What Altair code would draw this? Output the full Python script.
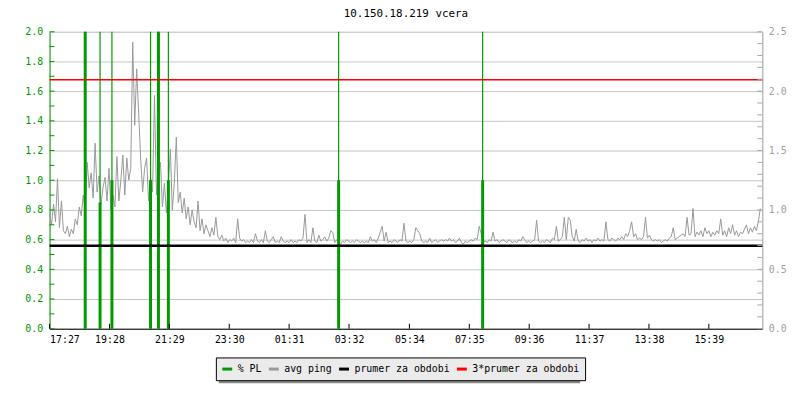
import altair as alt
import pandas as pd

# ---------------- data ----------------
title_text = "10.150.18.219 vcera"
series_names = ["% PL", "avg ping", "prumer za obdobi", "3*prumer za obdobi"]
series_colors = ["#009900", "#999999", "#000000", "#ff0000"]

tick_minutes = [0, 121, 242, 363, 484, 605, 727, 848, 969, 1090, 1211, 1332]
tick_labels = ["17:27", "19:28", "21:29", "23:30", "01:31", "03:32",
               "05:34", "07:35", "09:36", "11:37", "13:38", "15:39"]

# avg ping, one sample every 4 minutes starting 17:27 (left-axis units)
ping = [
    0.78, 0.70, 0.84, 0.72, 1.01, 0.68, 0.86, 0.66, 0.64, 0.69, 0.62, 0.67, 0.64, 0.74, 0.70, 0.82, 0.76, 0.90, 0.80, 1.12,
    0.95, 1.05, 0.88, 1.25, 0.92, 1.03, 0.84, 0.95, 1.02, 0.86, 1.08, 0.80, 0.90, 0.82, 1.16, 0.86, 1.00, 1.17, 0.90, 1.15,
    1.00, 1.08, 1.93, 1.37, 1.75, 1.45, 1.15, 0.92, 1.08, 1.15, 0.86, 1.02, 0.92, 1.57, 0.90, 1.08, 1.12, 0.82, 0.98, 0.78,
    0.95, 1.21, 0.80, 0.98, 1.29, 0.85, 0.92, 0.78, 0.88, 0.74, 0.82, 0.70, 0.80, 0.72, 0.68, 0.86, 0.66, 0.74, 0.64, 0.70,
    0.66, 0.62, 0.68, 0.63, 0.75, 0.62, 0.60, 0.63, 0.59, 0.61, 0.58, 0.60, 0.59, 0.61, 0.58, 0.74, 0.61, 0.59, 0.60, 0.58,
    0.59, 0.58, 0.60, 0.58, 0.64, 0.59, 0.58, 0.60, 0.58, 0.66, 0.59, 0.58, 0.60, 0.62, 0.58, 0.59, 0.58, 0.62, 0.59, 0.58,
    0.59, 0.58, 0.60, 0.58, 0.59, 0.58, 0.60, 0.59, 0.61, 0.77, 0.58, 0.60, 0.58, 0.68, 0.59, 0.58, 0.63, 0.59, 0.60, 0.62,
    0.59, 0.61, 0.66, 0.65, 0.58, 0.60, 0.58, 0.57, 0.59, 0.58, 0.60, 0.59, 0.58, 0.59, 0.58, 0.60, 0.59, 0.58, 0.59, 0.58,
    0.59, 0.58, 0.62, 0.59, 0.60, 0.58, 0.61, 0.65, 0.69, 0.59, 0.65, 0.58, 0.59, 0.58, 0.60, 0.59, 0.58, 0.60, 0.59, 0.71,
    0.59, 0.58, 0.59, 0.58, 0.60, 0.68, 0.66, 0.64, 0.59, 0.58, 0.59, 0.58, 0.61, 0.58, 0.59, 0.60, 0.58, 0.59, 0.60, 0.59,
    0.60, 0.59, 0.61, 0.59, 0.60, 0.58, 0.59, 0.61, 0.58, 0.57, 0.59, 0.58, 0.59, 0.60, 0.59, 0.61, 0.60, 0.69, 0.64, 0.58,
    0.59, 0.58, 0.60, 0.59, 0.65, 0.59, 0.60, 0.58, 0.59, 0.60, 0.59, 0.58, 0.60, 0.59, 0.58, 0.59, 0.58, 0.60, 0.59, 0.62,
    0.60, 0.58, 0.59, 0.58, 0.59, 0.60, 0.73, 0.59, 0.58, 0.59, 0.58, 0.60, 0.59, 0.58, 0.61, 0.60, 0.69, 0.59, 0.60, 0.62,
    0.75, 0.60, 0.75, 0.73, 0.62, 0.59, 0.67, 0.59, 0.58, 0.60, 0.59, 0.61, 0.59, 0.60, 0.58, 0.60, 0.59, 0.61, 0.59, 0.60,
    0.59, 0.72, 0.60, 0.59, 0.61, 0.60, 0.59, 0.61, 0.60, 0.62, 0.60, 0.64, 0.62, 0.66, 0.72, 0.62, 0.64, 0.60, 0.61, 0.60,
    0.62, 0.75, 0.61, 0.63, 0.60, 0.59, 0.60, 0.59, 0.60, 0.58, 0.59, 0.60, 0.59, 0.61, 0.62, 0.68, 0.60, 0.61, 0.62, 0.63,
    0.64, 0.62, 0.75, 0.63, 0.64, 0.81, 0.62, 0.65, 0.63, 0.66, 0.62, 0.68, 0.64, 0.66, 0.62, 0.65, 0.63, 0.66, 0.64, 0.74,
    0.63, 0.66, 0.62, 0.68, 0.64, 0.70, 0.63, 0.66, 0.62, 0.65, 0.64, 0.67, 0.70, 0.64, 0.68, 0.65, 0.69, 0.66, 0.72, 0.81,
]
ping_step_min = 4

# packet loss events (minutes after 17:27), full height and thick part height
pl_minutes = [72, 102, 126, 204, 220, 240, 584, 875]
pl_top = [2.0, 2.0, 2.0, 2.0, 2.0, 2.0, 2.0, 2.0]
pl_thick = [2.0, 0.85, 1.0, 1.0, 2.0, 1.0, 1.0, 1.0]

mean_value = 0.559
mean3_value = 1.677

left_ticks = [round(i * 0.1, 1) for i in range(21)]
left_labels = [round(i * 0.2, 1) for i in range(11)]
right_ticks = [round(i * 0.1, 1) for i in range(26)]
right_labels = [0.0, 0.5, 1.0, 1.5, 2.0, 2.5]

# ---------------- build ----------------
FONT = "DejaVu Sans Mono"
W, H = 720, 300
GREEN = series_colors[0]
GRAY = series_colors[1]
LEG_X, LEG_Y, LEG_W, LEG_H = 168, 329, 365, 23

ping_df = pd.DataFrame({
    "t": [i * ping_step_min for i in range(len(ping))],
    "v": ping,
    "series": "avg ping",
})
pl_df = pd.DataFrame({"t": pl_minutes, "top": pl_top, "thick": pl_thick})
lt_df = pd.DataFrame({"v": left_ticks})
rt_df = pd.DataFrame({"v": right_ticks})
xt_df = pd.DataFrame({"t": tick_minutes})
lines_df = pd.DataFrame({"v": [mean_value], "v3": [mean3_value]})

xscale = alt.Scale(domain=[0, 1440], nice=False, zero=False)
yscale = alt.Scale(domain=[0, 2], nice=False)
yscale_r = alt.Scale(domain=[0, 2.5], nice=False)

label_expr = f"{tick_labels}[indexof({tick_minutes}, datum.value)]"

x_axis = alt.Axis(values=tick_minutes, labelExpr=label_expr, title=None,
                  grid=False, ticks=False, domainColor="black", domainWidth=1,
                  labelColor="black", labelPadding=6, labelFont=FONT,
                  labelFontSize=10)
y_axis = alt.Axis(values=left_labels, format=".1f", title=None, grid=True,
                  gridColor="#c4c4c4", gridWidth=1, ticks=False,
                  domainColor=GREEN, domainWidth=1, labelColor=GREEN,
                  labelPadding=7, labelFont=FONT, labelFontSize=10)
y_axis_r = alt.Axis(values=right_labels, format=".1f", title=None, grid=False,
                    ticks=False, orient="right", domainColor="#a8a8a8", domainWidth=1,
                    labelColor="#a0a0a0", labelPadding=6, labelFont=FONT,
                    labelFontSize=10)


def X(field):
    return alt.X(field, scale=xscale, axis=x_axis)


def Y(field):
    return alt.Y(field, scale=yscale, axis=y_axis)


ping_line = alt.Chart(ping_df).mark_line(strokeWidth=1, interpolate="linear").encode(
    x=X("t:Q"),
    y=Y("v:Q"),
    color=alt.Color("series:N",
                    scale=alt.Scale(domain=series_names, range=series_colors),
                    legend=alt.Legend(title=None, orient="none", legendX=LEG_X,
                                      legendY=LEG_Y, direction="horizontal",
                                      symbolType="stroke", symbolSize=100,
                                      symbolStrokeWidth=3, labelFont=FONT,
                                      labelFontSize=10, labelColor="black",
                                      fillColor="#ebebeb", strokeColor="black",
                                      padding=5, columnPadding=0, labelOffset=4,
                                      columns=4)),
)

pl_thin = alt.Chart(pl_df).mark_rule(color=GREEN, strokeWidth=1.2).encode(
    x=X("t:Q"),
    y=Y("top:Q"),
    y2=alt.datum(0),
)
pl_thickbar = alt.Chart(pl_df).mark_rule(color=GREEN, strokeWidth=3).encode(
    x=X("t:Q"),
    y=Y("thick:Q"),
    y2=alt.datum(0),
)

mean_rule = alt.Chart(lines_df).mark_rule(color="black", strokeWidth=2.5).encode(
    y=Y("v:Q"),
    x=alt.value(0), x2=alt.value(W),
)
mean3_rule = alt.Chart(lines_df).mark_rule(color="red", strokeWidth=1.6).encode(
    y=Y("v3:Q"),
    x=alt.value(0), x2=alt.value(W),
)

left_tick_marks = alt.Chart(lt_df).mark_rule(color=GREEN, strokeWidth=1).encode(
    y=Y("v:Q"),
    x=alt.value(0), x2=alt.value(5),
)
x_tick_marks = alt.Chart(xt_df).mark_rule(color="black", strokeWidth=1).encode(
    x=X("t:Q"),
    y=alt.value(H), y2=alt.value(H - 5),
)

# drop shadow behind the legend box (decoration)
legend_shadow = alt.Chart(lines_df).mark_rect(color="#8a8a8a", clip=False).encode(
    x=alt.value(LEG_X + 3), x2=alt.value(LEG_X + 3 + LEG_W),
    y=alt.value(LEG_Y + 3), y2=alt.value(LEG_Y + 3 + LEG_H),
)

left_group = alt.layer(legend_shadow, ping_line, pl_thin, pl_thickbar, mean_rule,
                       mean3_rule, left_tick_marks, x_tick_marks)

right_ticks_layer = alt.Chart(rt_df).mark_rule(color="#a8a8a8", strokeWidth=1).encode(
    y=alt.Y("v:Q", scale=yscale_r, axis=y_axis_r),
    x=alt.value(W - 5), x2=alt.value(W),
)

chart = alt.layer(left_group, right_ticks_layer).resolve_scale(
    y="independent"
).properties(
    width=W, height=H,
    title=alt.TitleParams(title_text, font=FONT, fontSize=11, fontWeight="normal",
                          color="black", anchor="middle", offset=8),
    autosize=alt.AutoSizeParams(type="none"),
    padding={"left": 42, "top": 22, "right": 30, "bottom": 70},
).configure_view(stroke=None).configure(background="white")

chart.save("out.html", embed_options={"renderer": "svg", "actions": False})
